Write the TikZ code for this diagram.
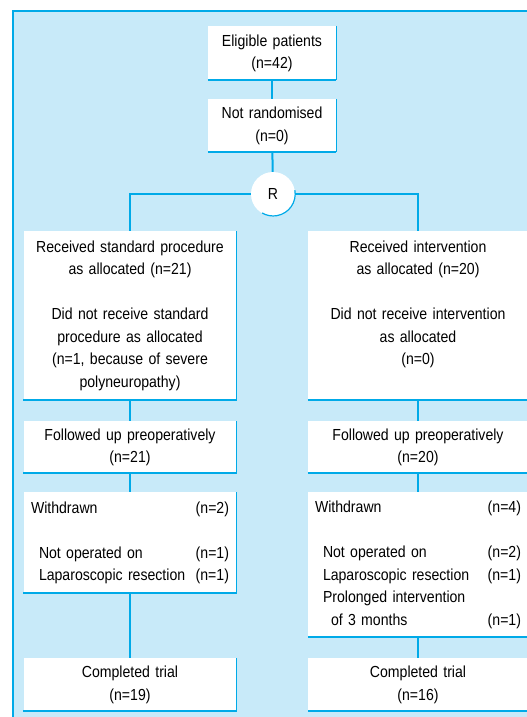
\documentclass[tikz,border=0pt]{standalone}
\usepackage{fontspec}
\setmainfont{Liberation Sans}[FakeStretch=0.88]
\definecolor{flowline}{RGB}{0,170,232}
\definecolor{flowback}{RGB}{200,234,249}
\newcommand\flowfont{\fontsize{16}{22.5}\selectfont}
\tikzset{
  stage/.style={fill=white, inner sep=0pt, align=center, anchor=north, font=\flowfont},
  listbox/.style={fill=white, inner xsep=7.5pt, inner ysep=0pt, align=left, anchor=north, font=\flowfont},
  link/.style={draw=flowline, line width=2pt},
  edgeright/.style={draw=flowline, line width=1.2pt},
  edgebottom/.style={draw=flowline, line width=2pt}
}
\begin{document}
\begin{tikzpicture}[x=1pt,y=1pt]
\useasboundingbox (0,0) rectangle (527,-717);
% background panel
\fill[flowback] (12,-10) rectangle (527,-717);
\draw[flowline, line width=2pt] (13,-717) -- (13,-11) -- (527,-11);

\node[stage, text width=128pt, minimum height=54pt] (elig) at (272,-26) {Eligible patients\\(n=42)};
\node[stage, text width=128pt, minimum height=53pt] (notrand) at (272,-99) {Not randomised\\(n=0)};
\node[circle, fill=white, minimum size=44pt, inner sep=0pt, font=\flowfont] (R) at (273,-194) {R};
\draw[edgeright] (R.10) arc[start angle=10, end angle=-120, radius=22pt];

% left arm
\node[stage, text width=213pt, minimum height=169pt] (recL) at (130,-231) {Received standard procedure\\as allocated (n=21)\\[22.5pt]Did not receive standard\\procedure as allocated\\(n=1, because of severe\\polyneuropathy)};
\node[stage, text width=213pt, minimum height=52pt] (folL) at (130,-421) {Followed up preoperatively\\(n=21)};
\node[listbox, text width=198pt, minimum height=101pt] (wdL) at (130,-492) {Withdrawn\hfill(n=2)\\[22.5pt]\hspace*{8pt}Not operated on\hfill(n=1)\\\hspace*{8pt}Laparoscopic resection\hfill(n=1)};
\node[stage, text width=213pt, minimum height=53pt] (compL) at (130,-658) {Completed trial\\(n=19)};

% right arm
\node[stage, text width=220pt, minimum height=169pt] (recR) at (418,-231) {Received intervention\\as allocated (n=20)\\[22.5pt]Did not receive intervention\\as allocated\\(n=0)\\\vphantom{(}};
\node[stage, text width=220pt, minimum height=52pt] (folR) at (418,-421) {Followed up preoperatively\\(n=20)};
\node[listbox, inner xsep=7pt, text width=206pt, minimum height=145pt] (wdR) at (418,-492) {Withdrawn\hfill(n=4)\\[22.5pt]\hspace*{8pt}Not operated on\hfill(n=2)\\\hspace*{8pt}Laparoscopic resection\hfill(n=1)\\\hspace*{8pt}Prolonged intervention\\\hspace*{16pt}of 3 months\hfill(n=1)};
\node[stage, text width=220pt, minimum height=53pt] (compR) at (418,-658) {Completed trial\\(n=16)};

% box shadows
\foreach \b in {elig,notrand,recL,folL,wdL,compL,recR,folR,wdR,compR}{
  \draw[edgeright] (\b.north east) -- (\b.south east);
  \draw[edgebottom] (\b.south west) -- (\b.south east);
}

\draw[link] (elig) -- (notrand);
\draw[link] (notrand) -- (R);
\draw[link] (R) -| (recL);
\draw[link] (R) -| (recR);
\draw[link] (recL) -- (folL);
\draw[link] (folL) -- (wdL);
\draw[link] (wdL) -- (compL);
\draw[link] (recR) -- (folR);
\draw[link] (folR) -- (wdR);
\draw[link] (wdR) -- (compR);
\end{tikzpicture}
\end{document}
